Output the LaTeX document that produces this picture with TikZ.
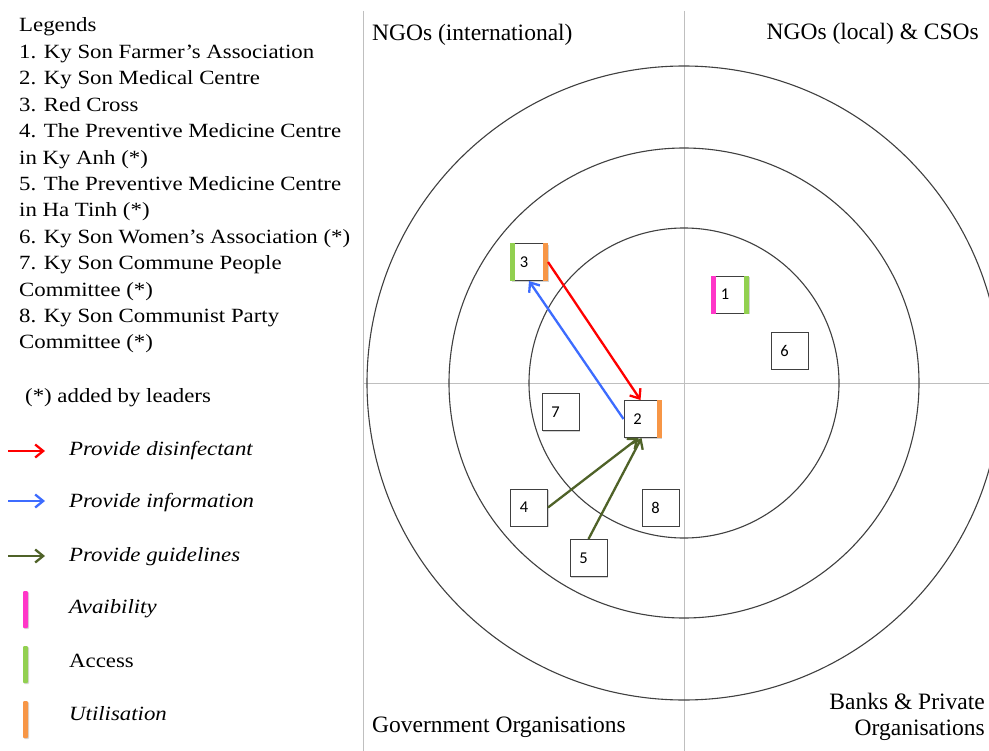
\documentclass[tikz,border=0pt]{standalone}
\usepackage{fontspec}
\setmainfont[FakeStretch=1.13]{Liberation Serif}
\newfontfamily\quadfont{Liberation Serif}
\newfontfamily\numfont{Carlito}
\usetikzlibrary{arrows.meta,shadows}

\definecolor{divgray}{HTML}{BFBFBF}
\definecolor{ringgray}{HTML}{404040}
\definecolor{boxgray}{HTML}{404040}
\definecolor{disinf}{HTML}{FF0000}
\definecolor{inform}{HTML}{3D6CFF}
\definecolor{guide}{HTML}{4F6228}
\definecolor{avail}{HTML}{FF36C8}
\definecolor{accss}{HTML}{92D050}
\definecolor{utilis}{HTML}{F79646}

\begin{document}
\begin{tikzpicture}[x=1bp,y=-1bp,
  divider/.style={draw=divgray,line width=1bp},
  ring/.style={draw=ringgray,line width=1.1bp},
  orgbox/.style={draw=boxgray,fill=white,line width=1bp,minimum size=37bp,inner sep=0pt,
    font=\numfont\fontsize{16.5bp}{19bp}\selectfont,
    drop shadow={shadow xshift=1.2bp,shadow yshift=-1.2bp,opacity=0.35}},
  flow/.style={line width=2.3bp,-{Straight Barb[length=8bp,width=13bp]}},
  accbar/.style={fill=#1,drop shadow={shadow xshift=1bp,shadow yshift=-1bp,opacity=0.3}},
  legtext/.style={inner sep=0pt,anchor=base west,font=\fontsize{20.2bp}{26.4bp}\selectfont},
  quad/.style={inner sep=0pt,font=\quadfont\fontsize{23.5bp}{28bp}\selectfont}]

\useasboundingbox (0,0) rectangle (989,751);
\fill[white] (0,0) rectangle (989,751);

% quadrant dividers
\draw[divider] (363,11) -- (363,751);
\draw[divider] (684,11) -- (684,751);
\draw[divider] (363,383) -- (989,383);

% concentric rings
\foreach \r in {317,235,155}
  \draw[ring] (684,383) circle[radius=\r];

% quadrant titles
\node[quad,anchor=base west] (qint) at (372,41) {NGOs (international)};
\node[quad,anchor=base east] (qloc) at (979,40) {NGOs (local) \& CSOs};
\node[quad,anchor=base west] (qgov) at (372,732) {Government Organisations};
\node[quad,anchor=base east] (qbank) at (985,709) {Banks \& Private};
\node[quad,anchor=base east] (qorg) at (985,735) {Organisations};

% organisations
\newcommand{\boxnum}[1]{\makebox[0pt]{\hspace{-10bp}#1}}
\node[orgbox] (b1) at (730,294.5) {\boxnum{1}};
\node[orgbox] (b2) at (642.5,419) {\boxnum{2}};
\node[orgbox] (b3) at (529,262) {\boxnum{3}};
\node[orgbox] (b4) at (529,507.5) {\boxnum{4}};
\node[orgbox] (b5) at (588.5,558) {\boxnum{5}};
\node[orgbox] (b6) at (789.5,350.5) {\boxnum{6}};
\node[orgbox] (b7) at (560.5,412) {\boxnum{7}};
\node[orgbox] (b8) at (660.5,507.5) {\boxnum{8}};

% availability / access / utilisation markers
\fill[avail] (b1.north west) rectangle ([xshift=5bp]b1.south west);
\fill[accss] ([xshift=-5bp]b1.north east) rectangle (b1.south east);
\fill[accss] (b3.north west) rectangle ([xshift=5bp]b3.south west);
\fill[utilis] ([xshift=-5bp]b3.north east) rectangle (b3.south east);
\fill[utilis] ([xshift=-5bp]b2.north east) rectangle (b2.south east);

% flows between organisations
\draw[flow,disinf] (b3.east) -- ([xshift=-2bp]b2.north);
\draw[flow,inform] (b2.west) -- (b3.south);
\draw[flow,guide] (b4.east) -- ([xshift=-4bp]b2.south);
\draw[flow,guide] (b5.north) -- ([xshift=-1bp]b2.south);

% legend list
\foreach \t [count=\i from 0] in {
  {Legends},
  {1. Ky Son Farmer’s Association},
  {2. Ky Son Medical Centre},
  {3. Red Cross},
  {4. The Preventive Medicine Centre},
  {in Ky Anh (*)},
  {5. The Preventive Medicine Centre},
  {in Ha Tinh (*)},
  {6. Ky Son Women’s Association (*)},
  {7. Ky Son Commune People},
  {Committee (*)},
  {8. Ky Son Communist Party},
  {Committee (*)}}
  \node[legtext] (leg\i) at (19,32+26.4*\i) {\t};
\node[legtext] (legnote) at (25,402) {(*) added by leaders};

% legend keys
\coordinate (ka1) at (8,451);  \coordinate (kb1) at (45,451);
\coordinate (ka2) at (8,501);  \coordinate (kb2) at (45,501);
\coordinate (ka3) at (8,556);  \coordinate (kb3) at (45,556);
\draw[flow,disinf] (ka1) -- (kb1);
\draw[flow,inform] (ka2) -- (kb2);
\draw[flow,guide] (ka3) -- (kb3);
\node[legtext] (kt1) at (69,455) {\itshape Provide disinfectant};
\node[legtext] (kt2) at (69,507) {\itshape Provide information};
\node[legtext] (kt3) at (69,561) {\itshape Provide guidelines};

\fill[accbar=avail,rounded corners=1bp] (23,591) rectangle (28,628);
\fill[accbar=accss,rounded corners=1bp] (23,646) rectangle (28,683);
\fill[accbar=utilis,rounded corners=1bp] (23,701) rectangle (28,738);
\node[legtext] (kt4) at (69,613) {\itshape Avaibility};
\node[legtext] (kt5) at (69,667) {Access};
\node[legtext] (kt6) at (69,720) {\itshape Utilisation};
\end{tikzpicture}
\end{document}
